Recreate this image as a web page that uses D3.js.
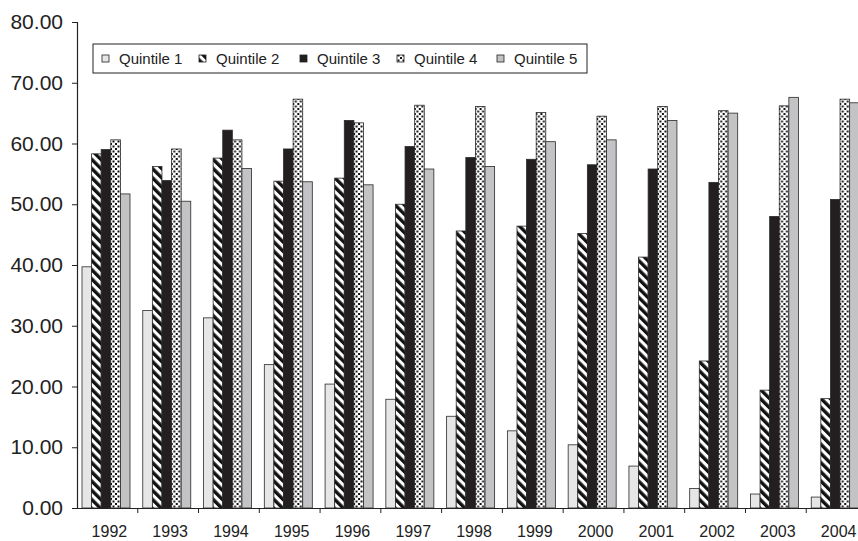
<!DOCTYPE html>
<html>
<head>
<meta charset="utf-8">
<script src="https://cdn.jsdelivr.net/npm/d3@7"></script>
<style>
  body { margin: 0; background: #fff; }
  svg { display: block; font-family: "Liberation Sans", Arial, sans-serif; }
</style>
</head>
<body>
<svg width="858" height="541"></svg>
<script>
// values
const years = ["1992","1993","1994","1995","1996","1997","1998","1999","2000","2001","2002","2003","2004"];
const quintiles = ["Quintile 1","Quintile 2","Quintile 3","Quintile 4","Quintile 5"];
const q1 = [39.7, 32.5, 31.3, 23.6, 20.4, 17.9, 15.1, 12.7, 10.4, 6.9, 3.2, 2.3, 1.8];
const q2 = [58.3, 56.2, 57.6, 53.8, 54.3, 50.0, 45.6, 46.4, 45.2, 41.3, 24.2, 19.4, 18.0];
const q3 = [59.0, 53.9, 62.2, 59.1, 63.8, 59.5, 57.7, 57.4, 56.5, 55.8, 53.6, 48.0, 50.8];
const q4 = [60.6, 59.1, 60.6, 67.3, 63.4, 66.3, 66.1, 65.1, 64.5, 66.1, 65.4, 66.2, 67.3];
const q5 = [51.7, 50.5, 55.9, 53.7, 53.2, 55.8, 56.2, 60.3, 60.6, 63.8, 65.0, 67.6, 66.7];
const yTicks = [0, 10, 20, 30, 40, 50, 60, 70, 80];

const seriesVals = [q1, q2, q3, q4, q5];
const table = years.map((yr, i) => ({year: yr, vals: quintiles.map((q, k) => ({key: q, value: seriesVals[k][i]}))}));

const svg = d3.select("svg");
const plotLeft = 77, plotTop = 22, plotBottom = 508;

// patterns
const defs = svg.append("defs");
const stripes = defs.append("pattern")
    .attr("id", "stripes")
    .attr("patternUnits", "userSpaceOnUse")
    .attr("width", 6.5).attr("height", 6.5)
    .attr("patternTransform", "rotate(-45)");
stripes.append("rect").attr("width", 6.5).attr("height", 6.5).attr("fill", "#fff");
stripes.append("rect").attr("width", 3.4).attr("height", 6.5).attr("fill", "#111");

const dots = defs.append("pattern")
    .attr("id", "dots")
    .attr("patternUnits", "userSpaceOnUse")
    .attr("width", 5).attr("height", 5);
dots.append("rect").attr("width", 5).attr("height", 5).attr("fill", "#fff");
dots.append("rect").attr("x", 0.5).attr("y", 0.5).attr("width", 2).attr("height", 2).attr("fill", "#111");
dots.append("rect").attr("x", 3).attr("y", 3).attr("width", 2).attr("height", 2).attr("fill", "#111");

const fills = {
    "Quintile 1": "#e6e6e7",
    "Quintile 2": "url(#stripes)",
    "Quintile 3": "#231f20",
    "Quintile 4": "url(#dots)",
    "Quintile 5": "#c3c3c5"
};

const x0 = d3.scaleBand()
    .domain(years)
    .range([plotLeft, plotLeft + 13 * 60.77]);

const x1 = d3.scaleBand()
    .domain(quintiles)
    .range([5, 53]);

const y = d3.scaleLinear()
    .domain([0, 80])
    .range([plotBottom, plotTop]);

// bars
const groups = svg.append("g")
    .selectAll("g")
    .data(table)
    .join("g")
    .attr("transform", d => `translate(${x0(d.year)},0)`);

groups.selectAll("rect")
    .data(d => d.vals)
    .join("rect")
    .attr("x", d => x1(d.key))
    .attr("y", d => y(d.value))
    .attr("width", x1.bandwidth())
    .attr("height", d => y(0) - y(d.value))
    .attr("fill", d => fills[d.key])
    .attr("stroke", "#2a2a2a")
    .attr("stroke-width", 0.8);

// y axis
const yAxis = svg.append("g")
    .attr("transform", `translate(${plotLeft},0)`)
    .call(d3.axisLeft(y).tickValues(yTicks).tickFormat(d3.format(".2f")).tickSize(5).tickPadding(9));
yAxis.select(".domain").attr("stroke", "#222").attr("stroke-width", 1.2);
yAxis.selectAll(".tick line").attr("stroke", "#222");
yAxis.selectAll("text")
    .attr("font-size", "21px")
    .attr("fill", "#222")
    .attr("font-family", "Liberation Sans, Arial, sans-serif");

// x axis
const xAxis = svg.append("g")
    .attr("transform", `translate(0,${plotBottom})`)
    .call(d3.axisBottom(x0).tickSize(0).tickPadding(18));
xAxis.select(".domain").attr("stroke", "#222").attr("stroke-width", 1.2);
xAxis.selectAll("text")
    .attr("font-size", "16px")
    .attr("fill", "#222")
    .attr("dx", "2px")
    .attr("font-family", "Liberation Sans, Arial, sans-serif");

// boundary ticks between years
svg.append("g")
    .selectAll("line")
    .data(years.slice(1))
    .join("line")
    .attr("x1", d => x0(d)).attr("x2", d => x0(d))
    .attr("y1", plotBottom).attr("y2", plotBottom + 5)
    .attr("stroke", "#222");

// legend
const legend = svg.append("g").attr("transform", "translate(93,44)");
legend.append("rect")
    .attr("width", 494).attr("height", 29)
    .attr("fill", "#fff").attr("stroke", "#222").attr("stroke-width", 1);

const legendX = [9, 106, 207, 304, 404];
const items = legend.selectAll(".key-item")
    .data(quintiles)
    .join("g")
    .attr("class", "key-item")
    .attr("transform", (d, i) => `translate(${legendX[i]},0)`);

items.append("rect")
    .attr("x", 0).attr("y", 11)
    .attr("width", 7).attr("height", 7)
    .attr("fill", d => fills[d])
    .attr("stroke", "#222")
    .attr("stroke-width", 0.8);

items.append("text")
    .attr("x", 17).attr("y", 20)
    .attr("font-size", "15px")
    .attr("fill", "#222")
    .text(d => d);
</script>
</body>
</html>
